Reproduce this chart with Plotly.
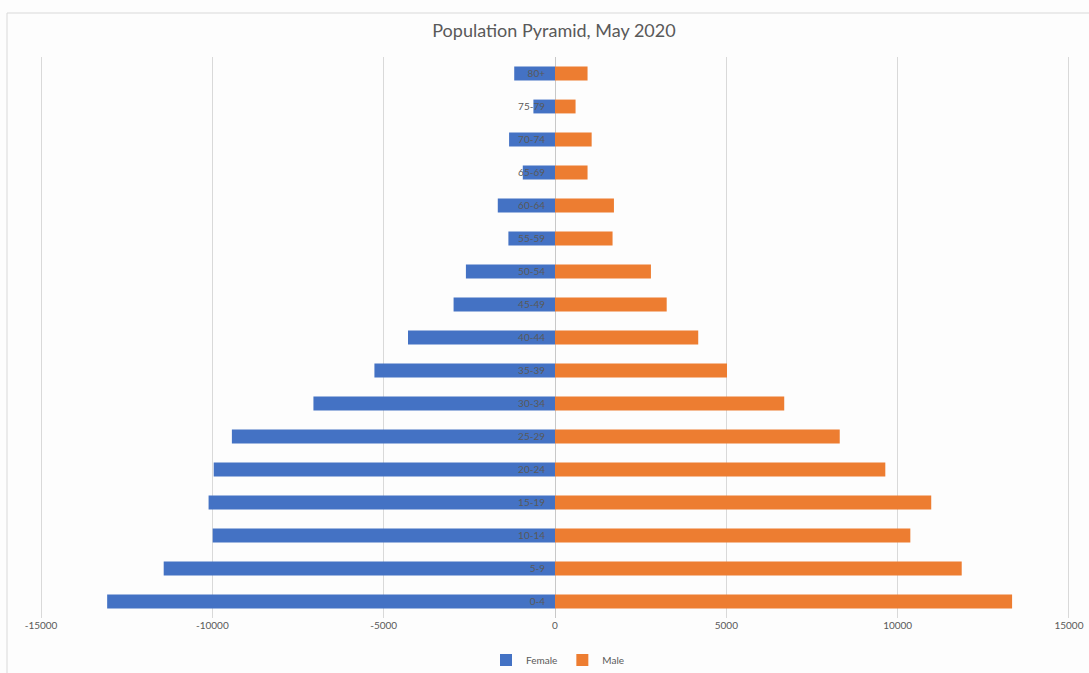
import plotly.graph_objects as go

age_groups = ["0-4", "5-9", "10-14", "15-19", "20-24", "25-29", "30-34", "35-39",
              "40-44", "45-49", "50-54", "55-59", "60-64", "65-69", "70-74", "75-79", "80+"]
female = [-13070, -11420, -9990, -10110, -9960, -9430, -7050, -5270,
          -4290, -2960, -2600, -1360, -1670, -940, -1340, -630, -1190]
male = [13340, 11870, 10370, 10980, 9640, 8310, 6690, 5020,
        4180, 3260, 2800, 1680, 1720, 950, 1070, 600, 950]
x_ticks = [-15000, -10000, -5000, 0, 5000, 10000, 15000]

W, H = 1089, 673
ml, mr, mt, mb = 40, 19, 57, 55

fig = go.Figure()
fig.add_trace(go.Bar(y=age_groups, x=female, orientation="h", name="Female",
                     marker=dict(color="#4472C4", line=dict(width=0))))
fig.add_trace(go.Bar(y=age_groups, x=male, orientation="h", name="Male",
                     marker=dict(color="#ED7D31", line=dict(width=0))))

fig.update_layout(
    width=W, height=H,
    margin=dict(l=ml, r=mr, t=mt, b=mb, autoexpand=False),
    barmode="relative",
    bargap=0.58,
    paper_bgcolor="#fdfdfd",
    plot_bgcolor="#fdfdfd",
    font=dict(family="Lato, Open Sans, sans-serif", color="#595959"),
    title=dict(text="Population Pyramid, May 2020", xref="container", x=554 / W,
               xanchor="center", y=1 - 31 / H, yanchor="middle",
               font=dict(size=18, color="#595959", family="Lato, Open Sans, sans-serif")),
    xaxis=dict(range=[-15030, 15030], tickvals=x_ticks, ticktext=[str(v) for v in x_ticks],
               showgrid=True, gridcolor="#d9d9d9", gridwidth=1,
               zeroline=True, zerolinecolor="#c8c8c8", zerolinewidth=1,
               showline=False, ticks="", tickfont=dict(size=10, color="#595959"),
               automargin=False, fixedrange=True),
    yaxis=dict(categoryorder="array", categoryarray=age_groups,
               anchor="free", position=0.5, showgrid=False, zeroline=False,
               showline=False, ticks="", ticklabelposition="outside",
               ticklabelstandoff=10, automargin=False,
               tickfont=dict(size=10, color="#595959"), fixedrange=True),
    legend=dict(orientation="h", xref="container", x=558 / W, xanchor="center",
                y=-(660 - (H - mb)) / (H - mt - mb),
                yanchor="middle", font=dict(size=10, color="#595959"),
                bgcolor="rgba(0,0,0,0)", itemwidth=30, tracegroupgap=0),
    showlegend=True,
)

pw = W - ml - mr
ph = H - mt - mb
fig.add_shape(type="rect", xref="paper", yref="paper",
              x0=(7 - ml) / pw, x1=(W + 2 - ml) / pw,
              y0=-(H + 2 - (H - mb)) / ph, y1=1 + (mt - 13) / ph,
              line=dict(color="#d9d9d9", width=1), fillcolor="rgba(0,0,0,0)", layer="below")

fig.write_html("out.html")
